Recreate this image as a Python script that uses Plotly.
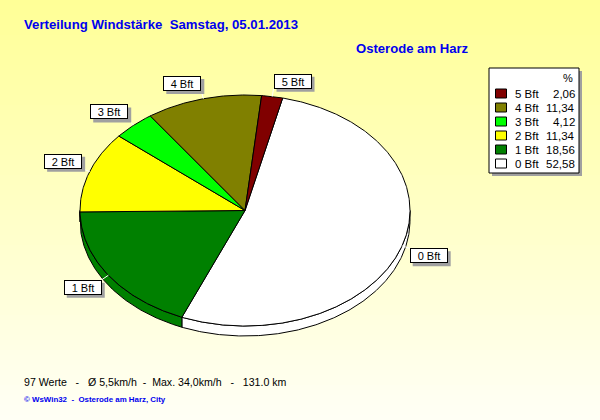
import numpy as np
import plotly.graph_objects as go

# Wind force distribution (Beaufort classes) and their share in percent
categories = ["0 Bft", "1 Bft", "2 Bft", "3 Bft", "4 Bft", "5 Bft"]
percent = [52.58, 18.56, 11.34, 4.12, 11.34, 2.06]
colors = ["#FFFFFF", "#008000", "#FFFF00", "#00FF00", "#808000", "#800000"]

title_text = "Verteilung Windstärke  Samstag, 05.01.2013"
station_text = "Osterode am Harz"
stats_text = "97 Werte   -   Ø 5,5km/h  -  Max. 34,0km/h   -   131.0 km"
credit_text = "© WsWin32  -  Osterode am Harz, City"

FONT = "Liberation Sans, Arial, sans-serif"
W, H = 600, 420

# tilted pie geometry (pixel space)
CX, CY = 245, 210.5
RX, RY = 165, 115.5
DEPTH = 10
START = 13.2  # degrees, clockwise from 12 o'clock


def ell(theta_deg, dy=0.0, grow=0.0):
    t = np.radians(theta_deg)
    return CX + (RX + grow) * np.sin(t), CY - (RY + grow) * np.cos(t) + dy


fig = go.Figure()

# background: vertical gradient yellow -> near white
shapes = []
n_bands = 84
for i in range(n_bands):
    f = (i + 0.5) / n_bands
    b = int(round(150 + (246 - 150) * f))
    shapes.append(dict(type="rect", xref="paper", yref="paper", x0=0, x1=1,
                       y0=1 - i / n_bands, y1=max(0, 1 - (i + 1.6) / n_bands),
                       fillcolor=f"rgb(255,255,{b})", line=dict(width=0), layer="below"))

total = float(sum(percent))
bounds = START + 360.0 * np.concatenate([[0.0], np.cumsum(percent)]) / total

# side walls of the front half
for k in range(len(percent)):
    a0, a1 = bounds[k], bounds[k + 1]
    for lo, hi in [(90, 270), (450, 630)]:
        s0, s1 = max(a0, lo), min(a1, hi)
        if s1 > s0:
            th = np.linspace(s0, s1, max(2, int((s1 - s0) * 2)))
            xt, yt = ell(th)
            xb, yb = ell(th[::-1], dy=DEPTH)
            xs = np.concatenate([xt, xb, xt[:1]])
            ys = np.concatenate([yt, yb, yt[:1]])
            fig.add_trace(go.Scatter(x=xs, y=ys, mode="lines", fill="toself",
                                     fillcolor=colors[k], line=dict(color="black", width=1),
                                     hoverinfo="skip"))

# top faces
for k in range(len(percent)):
    a0, a1 = bounds[k], bounds[k + 1]
    th = np.linspace(a0, a1, max(2, int((a1 - a0) * 2)))
    xt, yt = ell(th)
    xs = np.concatenate([[CX], xt, [CX]])
    ys = np.concatenate([[CY], yt, [CY]])
    fig.add_trace(go.Scatter(x=xs, y=ys, mode="lines", fill="toself",
                             fillcolor=colors[k], line=dict(color="black", width=1),
                             hoverinfo="skip"))

annotations = []

# slice labels with leader lines and shadowed boxes
BOX_W, BOX_H = 38, 15
for k, name in enumerate(categories):
    mid = (bounds[k] + bounds[k + 1]) / 2
    s, c = np.sin(np.radians(mid)), np.cos(np.radians(mid))
    xe, ye = ell(mid)
    xa, ya = ell(mid, grow=8)
    fig.add_trace(go.Scatter(x=[xe, xa], y=[ye, ya], mode="lines",
                             line=dict(color="white", width=1), hoverinfo="skip"))
    xanchor = "left" if s > 0 else "right"
    yanchor = "bottom" if c > 0 else "top"
    bx0 = xa if s > 0 else xa - BOX_W
    by0 = ya - BOX_H if c > 0 else ya
    shapes.append(dict(type="rect", xref="x", yref="y",
                       x0=bx0 + 3, x1=bx0 + BOX_W + 3, y0=by0 + 3, y1=by0 + BOX_H + 3,
                       fillcolor="#A0A0A0", line=dict(width=0), layer="above"))
    annotations.append(dict(
        x=xa, y=ya, xref="x", yref="y", text=name, showarrow=False,
        xanchor=xanchor, yanchor=yanchor, width=BOX_W - 4, height=BOX_H - 4, align="center",
        bgcolor="white", bordercolor="black", borderwidth=1, borderpad=1,
        font=dict(family=FONT, size=11, color="black")))

# legend box
LX0, LY0, LX1, LY1 = 489, 68, 579, 173
shapes.append(dict(type="rect", xref="x", yref="y", x0=LX0 + 3, x1=LX1 + 3, y0=LY0 + 3, y1=LY1 + 3,
                   fillcolor="#A0A0A0", line=dict(width=0), layer="below"))
shapes.append(dict(type="rect", xref="x", yref="y", x0=LX0, x1=LX1, y0=LY0, y1=LY1,
                   fillcolor="white", line=dict(color="black", width=1), layer="below"))
annotations.append(dict(x=568, y=78, xref="x", yref="y", text="%", showarrow=False,
                        xanchor="center", yanchor="middle",
                        font=dict(family=FONT, size=11, color="black")))

order = list(range(len(categories)))[::-1]
row_y = [93.5 + 14 * i for i in range(len(order))]
for i, k in enumerate(order):
    shapes.append(dict(type="rect", xref="x", yref="y", x0=495.5, x1=506.5,
                       y0=row_y[i] - 4.5, y1=row_y[i] + 4.5,
                       fillcolor=colors[k], line=dict(color="black", width=1), layer="below"))
    annotations.append(dict(x=513, y=row_y[i], xref="x", yref="y", text=categories[k],
                            showarrow=False, xanchor="left", yanchor="middle",
                            font=dict(family=FONT, size=11.5, color="black")))
    annotations.append(dict(x=577, y=row_y[i], xref="x", yref="y",
                            text=f"{percent[k]:.2f}".replace(".", ","),
                            showarrow=False, xanchor="right", yanchor="middle",
                            font=dict(family=FONT, size=11.5, color="black")))

# titles and footer texts
annotations.append(dict(x=22, y=24, xref="x", yref="y", text=f"<b>{title_text}</b>",
                        showarrow=False, xanchor="left", yanchor="middle",
                        font=dict(family=FONT, size=13.2, color="#0000EE")))
annotations.append(dict(x=354, y=48, xref="x", yref="y", text=f"<b>{station_text}</b>",
                        showarrow=False, xanchor="left", yanchor="middle",
                        font=dict(family=FONT, size=13.1, color="#0000EE")))
annotations.append(dict(x=22, y=382, xref="x", yref="y", text=stats_text,
                        showarrow=False, xanchor="left", yanchor="middle",
                        font=dict(family=FONT, size=10.6, color="black")))
annotations.append(dict(x=22, y=399.5, xref="x", yref="y", text=f"<b>{credit_text}</b>",
                        showarrow=False, xanchor="left", yanchor="middle",
                        font=dict(family=FONT, size=7.9, color="#0000EE")))

fig.update_layout(
    width=W, height=H, margin=dict(l=0, r=0, t=0, b=0),
    paper_bgcolor="#FFFFF5", plot_bgcolor="rgba(0,0,0,0)",
    showlegend=False,
    xaxis=dict(range=[0, W], visible=False, fixedrange=True),
    yaxis=dict(range=[H, 0], visible=False, fixedrange=True),
    shapes=shapes, annotations=annotations,
)

fig.write_html("out.html")
